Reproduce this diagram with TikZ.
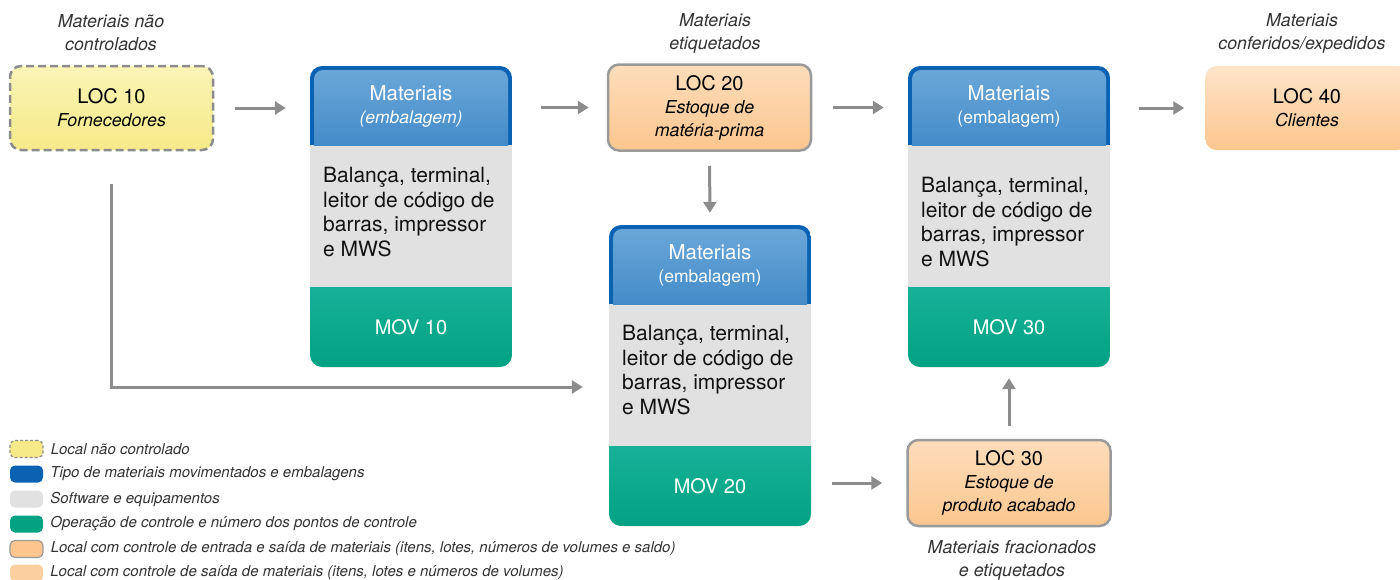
\documentclass[tikz,border=0pt]{standalone}
\usepackage{fontspec}
\setmainfont{TeX Gyre Heros}
\usetikzlibrary{arrows.meta,positioning}

\definecolor{flowgray}{HTML}{8C8C8C}
\definecolor{matedge}{HTML}{0B62B3}
\definecolor{mattop}{HTML}{6AA7D8}
\definecolor{matbot}{HTML}{3C86C5}
\definecolor{equipgray}{HTML}{E1E1E1}
\definecolor{movtop}{HTML}{17B197}
\definecolor{movbot}{HTML}{02A283}
\definecolor{loctop}{HTML}{FDDDBB}
\definecolor{locbot}{HTML}{FCC68E}
\definecolor{freetop}{HTML}{FAF4B6}
\definecolor{freebot}{HTML}{F6EA88}
\definecolor{locborder}{HTML}{9A9A9A}
\definecolor{labeltext}{HTML}{333333}

\newcommand{\subline}[1]{{\itshape\fontsize{17.8}{22}\selectfont #1}}

% box with material, equipment and movement bands
\newcommand{\matbox}[6]{%
  \begin{scope}
    \clip[rounded corners=12] (#2,#3) rectangle ++(202,301);
    \fill[matedge] (#2,#3) rectangle ++(202,79);
    \fill[equipgray] (#2,#3+79) rectangle ++(202,142);
    \shade[top color=movtop,bottom color=movbot] (#2,#3+221) rectangle ++(202,80);
    \clip (#2,#3) rectangle ++(202,79);
    \shade[top color=mattop,bottom color=matbot,rounded corners=9] (#2+4,#3+4) rectangle ++(194,90);
  \end{scope}
  \node[boxframe] (box#1) at (#2+101,#3+150.5) {};
  \node[mathead] (mat#1) at (#2+101,#3+40) {Materiais\\{\fontsize{17.5}{21}\selectfont #4}};
  \node[equiptxt] (equip#1) at (#2+13,#3+150+#6) {Balança, terminal,\\leitor de código de\\barras, impressor\\e MWS};
  \node[movtxt] (mov#1) at (#2+101,#3+261) {#5};
}

\tikzset{
  flow/.style={draw=flowgray, line width=3pt, line join=miter, -{Triangle[length=11pt,width=13pt]}, shorten <=21pt, shorten >=24pt},
  locbase/.style={line width=2.5pt, rounded corners=11pt, minimum width=203pt, minimum height=86pt,
    align=center, inner sep=0pt, font=\fontsize{20}{23}\selectfont},
  locfree/.style={locbase, draw=flowgray, dash pattern=on 8pt off 4pt, top color=freetop, bottom color=freebot, minimum height=84pt},
  loc/.style={locbase, draw=locborder, top color=loctop, bottom color=locbot},
  locout/.style={locbase, top color=loctop!80!white, bottom color=locbot, minimum height=84pt},
  boxframe/.style={minimum width=202pt, minimum height=301pt, inner sep=0pt},
  mathead/.style={text=white, align=center, inner sep=0pt, font=\fontsize{20.5}{23}\selectfont},
  equiptxt/.style={anchor=west, align=left, inner sep=0pt, text=black!93, font=\fontsize{21}{24.5}\selectfont},
  movtxt/.style={text=white, inner sep=0pt, font=\fontsize{20}{23}\selectfont},
  lbl/.style={align=center, inner sep=0pt, text=labeltext, font=\itshape\fontsize{17.8}{23}\selectfont},
  keybox/.style={minimum width=33pt, minimum height=17pt, rounded corners=5pt, inner sep=0pt},
  keytxt/.style={inner sep=0pt, text=labeltext, font=\itshape\fontsize{15}{16}\selectfont}
}

\begin{document}
\begin{tikzpicture}[x=1pt,y=-1pt]

\useasboundingbox (0,0) rectangle (1400,579);

% places
\node[locfree] (loc10) at (111.5,108) {LOC 10\\\subline{Fornecedores}};
\node[loc] (loc20) at (709.5,107.5) {LOC 20\\\subline{Estoque de}\\\subline{matéria-prima}};
\node[locout] (loc40) at (1307,108) {LOC 40\\\subline{Clientes}};
\node[loc] (loc30) at (1009,483) {LOC 30\\\subline{Estoque de}\\\subline{produto acabado}};

% material boxes
\matbox{1}{310}{66}{\itshape(embalagem)}{MOV 10}{-4}
\matbox{2}{609}{225}{(embalagem)}{MOV 20}{-5}
\matbox{3}{908}{66}{(embalagem)}{MOV 30}{6}

% labels
\node[lbl] (lbl10) at (111,33) {Materiais não\\controlados};
\node[lbl] (lbl20) at (715,33) {Materiais\\etiquetados};
\node[lbl] (lbl40) at (1302,33) {Materiais\\conferidos/expedidos};
\node[lbl] (lbl30) at (1012,560) {Materiais fracionados\\e etiquetados};

% flows
\draw[flow] (loc10.east) -- (loc10.east -| box1.west);
\draw[flow, shorten <=29pt, shorten >=18pt] (box1.east |- loc20.west) -- (loc20.west);
\draw[flow, shorten <=14pt, shorten >=12pt] (loc20.south) -- (box2.north);
\draw[flow] (loc20.east) -- (loc20.east -| box3.west);
\draw[flow, shorten <=29pt, shorten >=20pt] (box3.east |- loc40.west) -- (loc40.west);
\draw[flow] (loc30.west -| box2.east) -- (loc30.west);
\draw[flow, shorten <=13pt, shorten >=11pt] (loc30.north) -- (loc30.north |- box3.south);
\coordinate (bend) at (loc10.south |- 0,387);
\draw[flow, shorten <=33pt, shorten >=26pt] (loc10.south) -- (bend) -- (bend -| box2.west);

% legend
\node[keybox, draw=flowgray, line width=1.2pt, dash pattern=on 3pt off 2pt, fill=freebot] (key1) at (26.5,449) {};
\node[keybox, fill=matedge] (key2) at (26.5,474) {};
\node[keybox, fill=equipgray] (key3) at (26.5,499) {};
\node[keybox, fill=movbot] (key4) at (26.5,524) {};
\node[keybox, draw=locborder, line width=1.2pt, fill=locbot] (key5) at (26.5,549) {};
\node[keybox, fill=locbot!85!white] (key6) at (26.5,573) {};
\node[keytxt, right=7pt of key1] {Local não controlado};
\node[keytxt, right=7pt of key2] {Tipo de materiais movimentados e embalagens};
\node[keytxt, right=7pt of key3] {Software e equipamentos};
\node[keytxt, right=7pt of key4] {Operação de controle e número dos pontos de controle};
\node[keytxt, right=7pt of key5] {Local com controle de entrada e saída de materiais (itens, lotes, números de volumes e saldo)};
\node[keytxt, right=7pt of key6] {Local com controle de saída de materiais (itens, lotes e números de volumes)};

\end{tikzpicture}
\end{document}
